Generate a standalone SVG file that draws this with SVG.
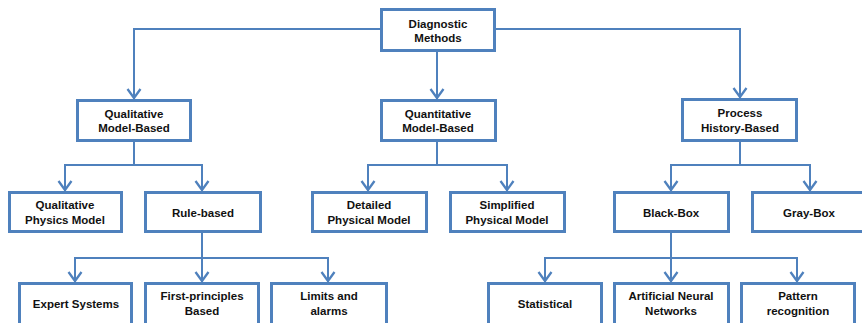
<svg xmlns="http://www.w3.org/2000/svg" width="862" height="323" viewBox="0 0 862 323">
<defs>
<marker id="ah" markerUnits="userSpaceOnUse" markerWidth="16" markerHeight="18" viewBox="-13 -9 16 18" refX="0" refY="0" orient="auto">
<path d="M-10,-6.5 L-1,0 L-10,6.5" fill="none" stroke="#4F81BD" stroke-width="2.3"/>
</marker>
<style>
.b{fill:#fff;stroke:#4F81BD;stroke-width:3}
.c{fill:none;stroke:#4F81BD;stroke-width:2}
.t{font-family:"Liberation Sans",Arial,sans-serif;font-size:11.5px;font-weight:bold;fill:#111;text-anchor:middle}
</style>
</defs>
<rect width="862" height="323" fill="#fff"/>
<g id="connectors">
<path class="c" d="M380,29 H134 V99" marker-end="url(#ah)"/>
<path class="c" d="M496,29 H740 V98" marker-end="url(#ah)"/>
<path class="c" d="M437,52 V99" marker-end="url(#ah)"/>
<path class="c" d="M134,142 V165"/>
<path class="c" d="M134,165 H65 V191" marker-end="url(#ah)"/>
<path class="c" d="M134,165 H202 V191" marker-end="url(#ah)"/>
<path class="c" d="M437,142 V165"/>
<path class="c" d="M437,165 H368 V191" marker-end="url(#ah)"/>
<path class="c" d="M437,165 H507 V191" marker-end="url(#ah)"/>
<path class="c" d="M740,142 V165"/>
<path class="c" d="M740,165 H671 V191" marker-end="url(#ah)"/>
<path class="c" d="M740,165 H810 V191" marker-end="url(#ah)"/>
<path class="c" d="M202,233 V282" marker-end="url(#ah)"/>
<path class="c" d="M202,258 H75 V282" marker-end="url(#ah)"/>
<path class="c" d="M202,258 H328 V282" marker-end="url(#ah)"/>
<path class="c" d="M671,233 V282" marker-end="url(#ah)"/>
<path class="c" d="M671,258 H545 V282" marker-end="url(#ah)"/>
<path class="c" d="M671,258 H797 V282" marker-end="url(#ah)"/>
</g>
<g id="diagnostic-methods">
<rect class="b" x="381.5" y="9.5" width="113" height="41"/>
<text class="t" x="438" y="27.5">Diagnostic</text>
<text class="t" x="438" y="41.5">Methods</text>
</g>
<g id="qualitative-model-based">
<rect class="b" x="77.5" y="100.5" width="113" height="40"/>
<text class="t" x="134" y="117.5">Qualitative</text>
<text class="t" x="134" y="132">Model-Based</text>
</g>
<g id="quantitative-model-based">
<rect class="b" x="381.5" y="100.5" width="114" height="40"/>
<text class="t" x="438" y="117.5">Quantitative</text>
<text class="t" x="438" y="132">Model-Based</text>
</g>
<g id="process-history-based">
<rect class="b" x="682.5" y="99.5" width="114" height="41"/>
<text class="t" x="740" y="117">Process</text>
<text class="t" x="740" y="131.5">History-Based</text>
</g>
<g id="qualitative-physics-model">
<rect class="b" x="9.5" y="192.5" width="112" height="39"/>
<text class="t" x="65" y="209">Qualitative</text>
<text class="t" x="65" y="223.5">Physics Model</text>
</g>
<g id="rule-based">
<rect class="b" x="145.5" y="192.5" width="115" height="39"/>
<text class="t" x="203" y="216.5">Rule-based</text>
</g>
<g id="detailed-physical-model">
<rect class="b" x="312.5" y="192.5" width="114" height="39"/>
<text class="t" x="369" y="209">Detailed</text>
<text class="t" x="369" y="223.5">Physical Model</text>
</g>
<g id="simplified-physical-model">
<rect class="b" x="450.5" y="192.5" width="114" height="39"/>
<text class="t" x="507" y="209">Simplified</text>
<text class="t" x="507" y="223.5">Physical Model</text>
</g>
<g id="black-box">
<rect class="b" x="614.5" y="192.5" width="114" height="39"/>
<text class="t" x="671" y="216.5">Black-Box</text>
</g>
<g id="gray-box">
<rect class="b" x="752.5" y="192.5" width="114" height="39"/>
<text class="t" x="809" y="216.5">Gray-Box</text>
</g>
<g id="expert-systems">
<rect class="b" x="19.5" y="283.5" width="112" height="42"/>
<text class="t" x="76" y="307.5">Expert Systems</text>
</g>
<g id="first-principles-based">
<rect class="b" x="145.5" y="283.5" width="113" height="42"/>
<text class="t" x="202" y="300">First-principles</text>
<text class="t" x="202" y="314.5">Based</text>
</g>
<g id="limits-and-alarms">
<rect class="b" x="271.5" y="283.5" width="115" height="42"/>
<text class="t" x="329" y="300">Limits and</text>
<text class="t" x="329" y="314.5">alarms</text>
</g>
<g id="statistical">
<rect class="b" x="488.5" y="283.5" width="113" height="42"/>
<text class="t" x="545" y="307.5">Statistical</text>
</g>
<g id="artificial-neural-networks">
<rect class="b" x="614.5" y="283.5" width="114" height="42"/>
<text class="t" x="671" y="300">Artificial Neural</text>
<text class="t" x="671" y="314.5">Networks</text>
</g>
<g id="pattern-recognition">
<rect class="b" x="741.5" y="283.5" width="113" height="42"/>
<text class="t" x="798" y="300">Pattern</text>
<text class="t" x="798" y="314.5">recognition</text>
</g>
</svg>
